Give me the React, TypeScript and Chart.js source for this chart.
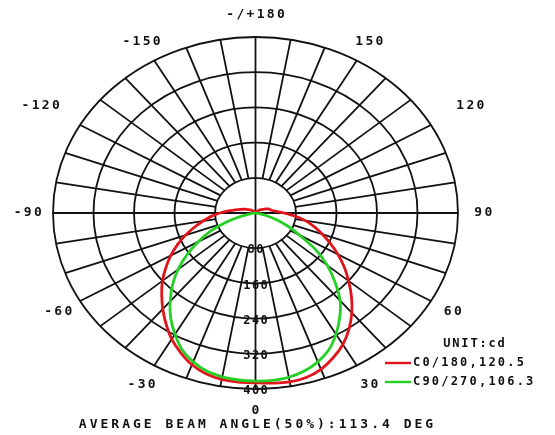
import { useEffect, useRef } from 'react';
import { Chart, registerables } from 'chart.js';

Chart.register(...registerables);

// Gamma angles (deg), 0 = straight down, +90 = right, -90 = left, ±180 = up
const ANGLES = [
  -180, -175, -170, -165, -160, -155, -150, -145, -140, -135, -130, -125,
  -120, -115, -110, -105, -100, -95, -90, -85, -80, -75, -70, -65,
  -60, -55, -50, -45, -40, -35, -30, -25, -20, -15, -10, -5,
  0,
  5, 10, 15, 20, 25, 30, 35, 40, 45, 50, 55, 60,
  65, 70, 75, 80, 85, 90, 95, 100, 105, 110, 115, 120,
  125, 130, 135, 140, 145, 150, 155, 160, 165, 170, 175, 180,
];

// Luminous intensity, cd
const C0_180 = [
  0, 0, 0, 1, 1, 2, 3, 4, 5, 7, 9, 12,
  15, 20, 25, 31, 40, 54, 70, 88, 105, 125, 147, 170,
  193, 216, 240, 262, 285, 308, 331, 350, 367, 378, 384, 386,
  386,
  388, 390, 387, 378, 363, 345, 322, 296, 268, 240, 214, 188,
  163, 140, 120, 100, 78, 57, 42, 33, 30, 27, 22, 17,
  13, 10, 7, 5, 4, 3, 2, 1, 1, 0, 0, 0,
];

const C90_270 = [
  0, 0, 0, 0, 0, 0, 0, 0, 0, 0, 0, 0,
  0, 0, 0, 0, 0, 0, 0, 3, 10, 30, 62, 98,
  130, 165, 200, 232, 262, 292, 318, 343, 360, 372, 378, 381,
  382,
  382, 379, 372, 360, 343, 318, 290, 260, 222, 185, 145, 100,
  70, 42, 20, 7, 2, 0, 0, 0, 0, 0, 0, 0,
  0, 0, 0, 0, 0, 0, 0, 0, 0, 0, 0, 0,
];

const RINGS = [80, 160, 240, 320, 400];
const RING_LABELS = ['80', '160', '240', '320', '400'];
const ANGLE_TICKS = [0, 30, 60, 90, 120, 150, 180, -150, -120, -90, -60, -30];
const ANGLE_TICK_LABELS = ['0', '30', '60', '90', '120', '150', '-/+180', '-150', '-120', '-90', '-60', '-30'];
const SPOKE_STEP = 10;
const SERIES_NAMES = ['C0/180,120.5', 'C90/270,106.3'];
const UNIT_TEXT = 'UNIT:cd';
const TITLE_TEXT = 'AVERAGE BEAM ANGLE(50%):113.4 DEG';

const RED = '#e0141a';
const GREEN = '#25d025';
const INK = '#111111';
const FONT = "'DejaVu Sans Mono', 'Liberation Mono', monospace";

const toXY = (a: number, r: number) => {
  const t = (a * Math.PI) / 180;
  return { x: r * Math.sin(t), y: -r * Math.cos(t) };
};

const polarPlugin = {
  id: 'polarGrid',
  beforeDatasetsDraw(chart: any) {
    const { ctx } = chart;
    const xs = chart.scales.x;
    const ys = chart.scales.y;
    const P = (a: number, r: number) => {
      const p = toXY(a, r);
      return [xs.getPixelForValue(p.x), ys.getPixelForValue(p.y)];
    };
    const cx = xs.getPixelForValue(0);
    const cy = ys.getPixelForValue(0);
    ctx.save();
    ctx.strokeStyle = INK;
    ctx.lineWidth = 1.8;
    RINGS.forEach((r) => {
      const rx = xs.getPixelForValue(r) - cx;
      const ry = cy - ys.getPixelForValue(r);
      ctx.beginPath();
      ctx.ellipse(cx, cy, rx, ry, 0, 0, Math.PI * 2);
      ctx.stroke();
    });
    const outer = RINGS[RINGS.length - 1];
    for (let a = 0; a < 360; a += SPOKE_STEP) {
      const start = a % 90 === 0 ? 0 : RINGS[0];
      const [x0, y0] = P(a, start);
      const [x1, y1] = P(a, outer);
      ctx.beginPath();
      ctx.moveTo(x0, y0);
      ctx.lineTo(x1, y1);
      ctx.stroke();
    }
    ctx.restore();
  },
  afterDatasetsDraw(chart: any) {
    const { ctx } = chart;
    const xs = chart.scales.x;
    const ys = chart.scales.y;
    const P = (a: number, r: number) => {
      const p = toXY(a, r);
      return [xs.getPixelForValue(p.x), ys.getPixelForValue(p.y)];
    };
    const txt = (s: string, x: number, y: number, size: number, spacing: number, align: CanvasTextAlign) => {
      ctx.save();
      ctx.font = `bold ${size}px ${FONT}`;
      (ctx as any).letterSpacing = `${spacing}px`;
      ctx.fillStyle = INK;
      ctx.textBaseline = 'middle';
      ctx.textAlign = align;
      const dx = align === 'center' ? spacing / 2 : 0;
      ctx.fillText(s, x + dx, y);
      ctx.restore();
    };
    // ring value labels along the 0° axis
    RINGS.forEach((r, i) => {
      const [x, y] = P(0, r);
      txt(RING_LABELS[i], x, y + 2, 12, 1.5, 'center');
    });
    // angle labels
    ANGLE_TICKS.forEach((a, i) => {
      const rr = Math.abs(a) === 120 ? 490 : 450;
      const [x, y] = P(a, rr);
      txt(ANGLE_TICK_LABELS[i], x, y, 13, 2.3, 'center');
    });
    // legend
    const colors = [RED, GREEN];
    txt(UNIT_TEXT, 474, 344, 12, 1.8, 'center');
    SERIES_NAMES.forEach((name, i) => {
      const ly = 363 + i * 19;
      ctx.save();
      ctx.strokeStyle = colors[i];
      ctx.lineWidth = 2.4;
      ctx.beginPath();
      ctx.moveTo(385, ly);
      ctx.lineTo(411, ly);
      ctx.stroke();
      ctx.restore();
      txt(name, 413, ly, 12, 2.2, 'left');
    });
    // bottom title
    txt(TITLE_TEXT, 256, 425, 13, 3, 'center');
  },
};

export default function App() {
  const ref = useRef<HTMLCanvasElement | null>(null);
  useEffect(() => {
    if (!ref.current) return;
    const build = (vals: number[]) => ANGLES.map((a, i) => toXY(a, vals[i]));
    const chart = new Chart(ref.current, {
      type: 'scatter',
      data: {
        datasets: [
          {
            label: SERIES_NAMES[1],
            data: build(C90_270),
            borderColor: GREEN,
            borderWidth: 2.8,
            showLine: true,
            pointRadius: 0,
            tension: 0.3,
            fill: false,
            clip: false as any,
          },
          {
            label: SERIES_NAMES[0],
            data: build(C0_180),
            borderColor: RED,
            borderWidth: 2.8,
            showLine: true,
            pointRadius: 0,
            tension: 0.3,
            fill: false,
            clip: false as any,
          },
        ],
      },
      options: {
        animation: false,
        responsive: true,
        maintainAspectRatio: false,
        layout: { padding: { left: 53, right: 97, top: 37, bottom: 46 } },
        scales: {
          x: { type: 'linear', min: -400, max: 400, display: false },
          y: { type: 'linear', min: -400, max: 400, display: false },
        },
        plugins: {
          legend: { display: false },
          tooltip: { enabled: false },
          title: { display: false },
        },
        events: [],
      },
      plugins: [polarPlugin],
    });
    return () => chart.destroy();
  }, []);
  return (
    <div style={{ position: 'fixed', left: 0, top: 0, width: 555, height: 435, background: '#fff' }}>
      <canvas ref={ref} />
    </div>
  );
}
